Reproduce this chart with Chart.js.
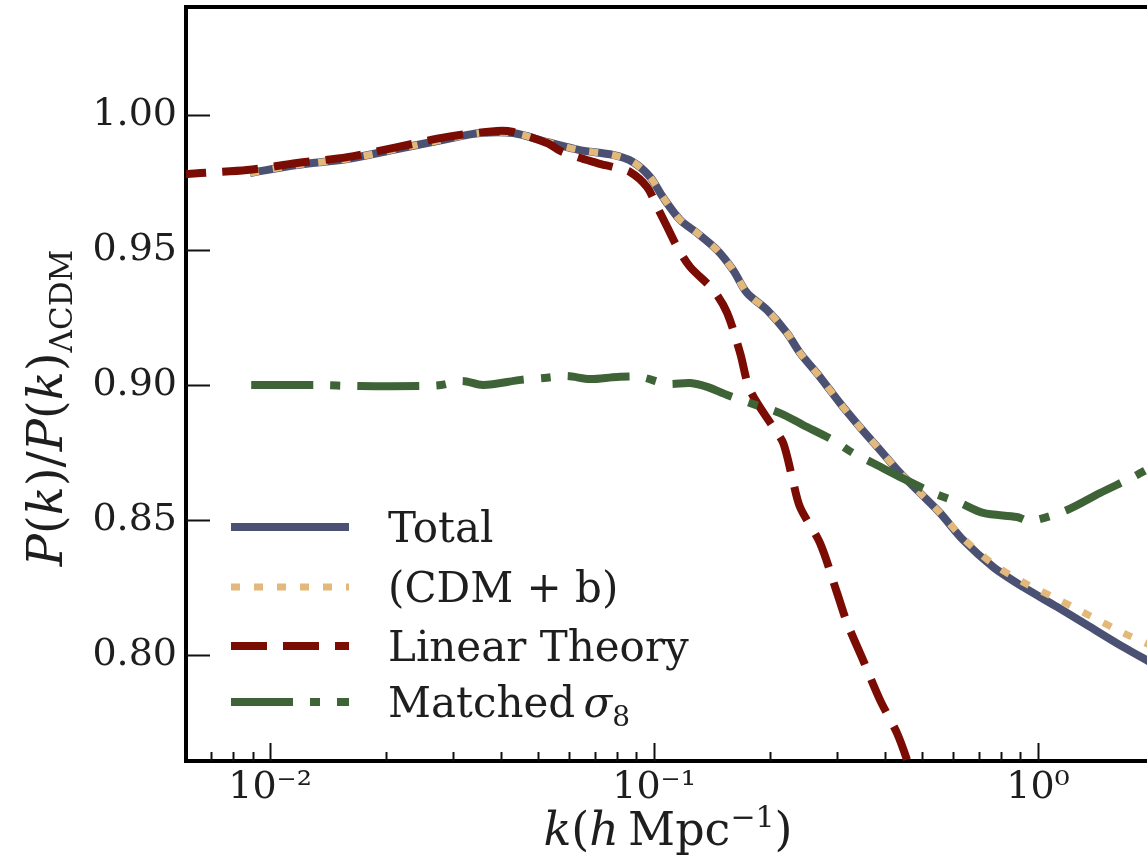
<!DOCTYPE html>
<html>
<head>
<meta charset="utf-8">
<script src="https://cdn.jsdelivr.net/npm/chart.js@4.4.1/dist/chart.umd.min.js"></script>
<style>
  html, body { margin: 0; padding: 0; background: #fff; overflow: hidden; }
</style>
</head>
<body>
<canvas id="chart" width="1147" height="857"></canvas>
<script>
// values
const kLinear = [0.0055, 0.00658, 0.00871, 0.01175, 0.01588, 0.02143, 0.02891, 0.03902, 0.04295, 0.0526,
  0.0579, 0.0711, 0.0782, 0.0866, 0.0959, 0.1019, 0.1082, 0.1149, 0.1242, 0.1426,
  0.155, 0.1675, 0.1778, 0.2042, 0.217, 0.2288, 0.2399, 0.2704, 0.2996, 0.3182,
  0.3502, 0.3878, 0.4293, 0.456, 0.493];
const linearTheory = [0.9776, 0.9785, 0.9796, 0.9822, 0.9844, 0.9881, 0.9919, 0.9941, 0.9937, 0.9896,
  0.9863, 0.9822, 0.9807, 0.9789, 0.9733, 0.9659, 0.9585, 0.9511, 0.9437, 0.9352,
  0.9267, 0.9119, 0.8981, 0.8844, 0.8785, 0.8659, 0.8548, 0.8415, 0.823, 0.8119,
  0.7981, 0.7833, 0.7711, 0.7611, 0.746];

const kTotal = [0.00887, 0.01175, 0.01588, 0.02143, 0.02891, 0.03524, 0.04295, 0.0526, 0.0641, 0.0782,
  0.0881, 0.0977, 0.1054, 0.117, 0.1295, 0.1459, 0.1606, 0.1746, 0.1968, 0.2218,
  0.2399, 0.2704, 0.3048, 0.3436, 0.3878, 0.4375, 0.4931, 0.5559, 0.6383, 0.764,
  0.914, 1.121, 1.366, 1.665, 1.957];
const total = [0.9785, 0.9815, 0.9837, 0.9874, 0.9911, 0.9933, 0.9933, 0.990, 0.987, 0.9852,
  0.9826, 0.977, 0.9696, 0.9611, 0.9563, 0.950, 0.9426, 0.9341, 0.9278, 0.9193,
  0.9119, 0.903, 0.8933, 0.8844, 0.8759, 0.8674, 0.860, 0.8526, 0.8426, 0.8326,
  0.8252, 0.8178, 0.8104, 0.803, 0.7974];
const cdmb = [0.9785, 0.9815, 0.9837, 0.9874, 0.9911, 0.9933, 0.9933, 0.990, 0.987, 0.9852,
  0.9826, 0.977, 0.9696, 0.9611, 0.9563, 0.950, 0.9426, 0.9341, 0.9278, 0.9193,
  0.9119, 0.903, 0.8933, 0.8844, 0.8759, 0.8674, 0.860, 0.8526, 0.8432, 0.8337,
  0.827, 0.8208, 0.8145, 0.8082, 0.8037];

const kMatched = [0.00893, 0.01309, 0.01706, 0.02461, 0.02789, 0.03162, 0.03586, 0.04506, 0.05175, 0.05936,
  0.06808, 0.08009, 0.09198, 0.1082, 0.1242, 0.1375, 0.155, 0.1778, 0.2128, 0.2443,
  0.2923, 0.3297, 0.3715, 0.4375, 0.5332, 0.6266, 0.7196, 0.8816, 0.9529, 1.19,
  1.45, 1.767, 1.957];
const matched = [0.900, 0.900, 0.8996, 0.8996, 0.900, 0.9015, 0.900, 0.9019, 0.9026, 0.9033,
  0.9022, 0.903, 0.903, 0.9004, 0.9007, 0.8993, 0.8963, 0.8933, 0.8896, 0.8852,
  0.8796, 0.8748, 0.8711, 0.8659, 0.860, 0.8563, 0.8526, 0.8511, 0.8496, 0.8537,
  0.860, 0.8659, 0.8693];

const yTicks = [0.80, 0.85, 0.90, 0.95, 1.00];
const xMajor = [0.01, 0.1, 1];
const xMajorLabels = ['10\u207B\u00B2', '10\u207B\u00B9', '10\u2070'];
const xMinor = [0.006, 0.007, 0.008, 0.009, 0.02, 0.03, 0.04, 0.05, 0.06, 0.07, 0.08, 0.09,
  0.2, 0.3, 0.4, 0.5, 0.6, 0.7, 0.8, 0.9];

const FONT = 'DejaVu Serif';
const TXT = '#1e1e1e';

function pts(xs, ys) { return xs.map((x, i) => ({ x: x, y: ys[i] })); }

// ticks inside the frame, top spine, legend and axis titles
const decor = {
  id: 'decor',
  afterDraw(chart) {
    const ctx = chart.ctx;
    const a = chart.chartArea;
    const xs = chart.scales.x, ys = chart.scales.y;
    ctx.save();
    ctx.strokeStyle = '#111';
    ctx.lineWidth = 2;
    xs.ticks.forEach(t => {
      const px = Math.round(xs.getPixelForValue(t.value)) + 0.5;
      if (px < a.left + 3 || px > a.right) return;
      const len = xMajor.includes(t.value) ? 18 : 9;
      ctx.beginPath(); ctx.moveTo(px, a.bottom); ctx.lineTo(px, a.bottom - len); ctx.stroke();
    });
    ys.ticks.forEach(t => {
      const py = Math.round(ys.getPixelForValue(t.value)) + 0.5;
      ctx.beginPath(); ctx.moveTo(a.left, py); ctx.lineTo(a.left + 24, py); ctx.stroke();
    });
    // top spine
    ctx.strokeStyle = '#000';
    ctx.lineWidth = 4;
    ctx.beginPath(); ctx.moveTo(a.left - 2, a.top); ctx.lineTo(a.right, a.top); ctx.stroke();

    // legend
    const rows = [527, 587, 646, 702];
    [0, 1, 2, 3].forEach((di, r) => {
      const ds = chart.data.datasets[di];
      ctx.strokeStyle = ds.borderColor;
      ctx.lineWidth = ds.borderWidth;
      ctx.setLineDash(ds.borderDash || []);
      ctx.lineCap = 'butt';
      ctx.beginPath(); ctx.moveTo(231, rows[r]); ctx.lineTo(349, rows[r]); ctx.stroke();
      ctx.setLineDash([]);
    });
    ctx.fillStyle = TXT;
    ctx.textBaseline = 'alphabetic';
    const legendRuns = [
      [['Total', '42px']],
      [['(CDM + b)', '42px']],
      [['Linear Theory', '42px']],
      [['Matched\u2009', '42px'], ['\u03C3', 'italic 42px'], ['8', '28px', 9]]
    ];
    legendRuns.forEach((runs, r) => drawRuns(ctx, runs, 388, rows[r] + 15, 'left'));

    // x title
    drawRuns(ctx, [['k', 'italic 46px'], ['(', '46px'], ['h', 'italic 46px'], ['\u2009Mpc', '46px'],
      ['\u22121', '30px', -18], [')', '46px']], 668, 845, 'center');
    // y title
    ctx.save();
    ctx.translate(62, 408);
    ctx.rotate(-Math.PI / 2);
    drawRuns(ctx, [['P', 'italic 48px'], ['(', '48px'], ['k', 'italic 48px'], [')/', '48px'],
      ['P', 'italic 48px'], ['(', '48px'], ['k', 'italic 48px'], [')', '48px'],
      ['\u039BCDM', '31px', 10]], 0, 0, 'center');
    ctx.restore();
    ctx.restore();
  }
};

function drawRuns(ctx, runs, x, y, align) {
  let w = 0;
  runs.forEach(r => { ctx.font = r[1] + ' "' + FONT + '"'; w += ctx.measureText(r[0]).width; });
  let cx = align === 'center' ? x - w / 2 : x;
  ctx.textAlign = 'left';
  runs.forEach(r => {
    ctx.font = r[1] + ' "' + FONT + '"';
    ctx.fillText(r[0], cx, y + (r[2] || 0));
    cx += ctx.measureText(r[0]).width;
  });
}

const ctx = document.getElementById('chart').getContext('2d');
new Chart(ctx, {
  type: 'line',
  data: {
    datasets: [
      { label: 'Total', data: pts(kTotal, total), borderColor: '#4a5172', borderWidth: 8, order: 4 },
      { label: '(CDM + b)', data: pts(kTotal, cdmb), borderColor: '#e2b97b', borderWidth: 7, borderDash: [9, 14], order: 3 },
      { label: 'Linear Theory', data: pts(kLinear, linearTheory), borderColor: '#7a0c03', borderWidth: 8, borderDash: [36, 16], order: 2 },
      { label: 'Matched \u03C38', data: pts(kMatched, matched), borderColor: '#3e6337', borderWidth: 8, borderDash: [62, 17, 10, 17], order: 1 }
    ]
  },
  options: {
    responsive: false,
    animation: false,
    devicePixelRatio: 1,
    layout: { padding: { top: 7, right: 0, bottom: 0, left: 0 } },
    elements: {
      point: { radius: 0 },
      line: { tension: 0.3, fill: false, borderCapStyle: 'butt', borderJoinStyle: 'round' }
    },
    datasets: { line: { clip: 0 } },
    plugins: { legend: { display: false }, tooltip: { enabled: false } },
    scales: {
      x: {
        type: 'logarithmic',
        min: 0.00604,
        max: 1.922,
        z: 1,
        grid: { display: false, drawTicks: false },
        border: { display: true, color: '#000', width: 4 },
        afterBuildTicks: s => { s.ticks = xMinor.concat(xMajor).sort((p, q) => p - q).map(v => ({ value: v })); },
        afterFit: s => { s.height = 96; s.paddingLeft = 0; s.paddingRight = 0; },
        ticks: {
          autoSkip: false, maxRotation: 0, padding: 4, color: TXT,
          font: { family: FONT, size: 38 },
          callback: v => { const i = xMajor.indexOf(v); return i < 0 ? '' : xMajorLabels[i]; }
        }
      },
      y: {
        type: 'linear',
        min: 0.76074,
        max: 1.04,
        z: 1,
        grid: { display: false, drawTicks: false },
        border: { display: true, color: '#000', width: 4 },
        afterBuildTicks: s => { s.ticks = yTicks.map(v => ({ value: v })); },
        afterFit: s => { s.width = 186; s.paddingTop = 0; s.paddingBottom = 0; },
        ticks: {
          padding: 9, color: TXT,
          font: { family: FONT, size: 38 },
          callback: v => v.toFixed(2)
        }
      }
    }
  },
  plugins: [decor]
});
</script>
</body>
</html>
